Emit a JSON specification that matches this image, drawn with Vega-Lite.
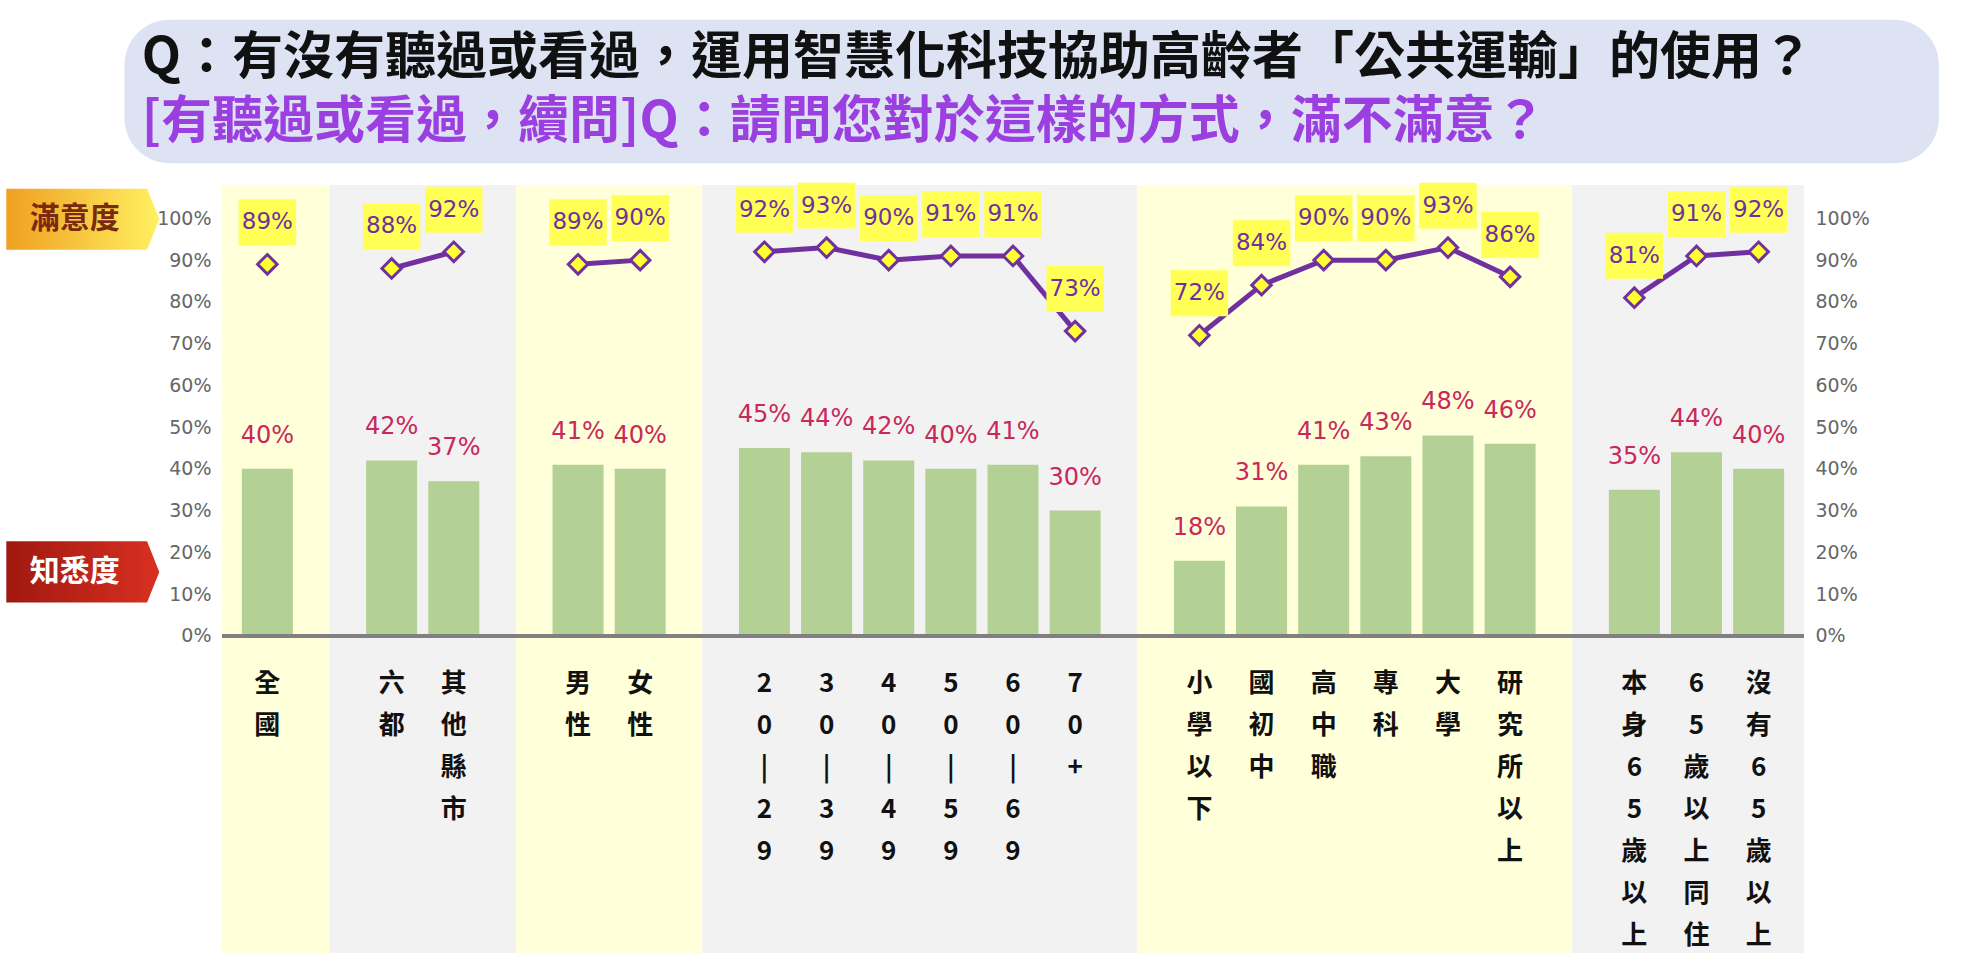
{
  "$schema": "https://vega.github.io/schema/vega-lite/v6.json",
  "width": 1592,
  "height": 768,
  "autosize": "none",
  "padding": {"left": 217, "top": 185, "right": 179, "bottom": 23},
  "background": "white",
  "config": {
    "view": {"stroke": null},
    "font": "Noto Sans CJK TC",
    "axis": {"labelFont": "Noto Sans CJK TC"}
  },
  "datasets": {
    "groups": [
      {"start": -0.73, "end": 1, "tone": "y"},
      {"start": 1, "end": 4, "tone": "g"},
      {"start": 4, "end": 7, "tone": "y"},
      {"start": 7, "end": 14, "tone": "g"},
      {"start": 14, "end": 21, "tone": "y"},
      {"start": 21, "end": 24.73, "tone": "g"}
    ],
    "rows": [
      {"idx": 0, "label": "全\n國", "group": "a", "aware": 0.40, "sat": 0.89},
      {"idx": 2, "label": "六\n都", "group": "b", "aware": 0.42, "sat": 0.88},
      {"idx": 3, "label": "其\n他\n縣\n市", "group": "b", "aware": 0.37, "sat": 0.92},
      {"idx": 5, "label": "男\n性", "group": "c", "aware": 0.41, "sat": 0.89},
      {"idx": 6, "label": "女\n性", "group": "c", "aware": 0.40, "sat": 0.90},
      {"idx": 8, "label": "2\n0\n|\n2\n9", "group": "d", "aware": 0.45, "sat": 0.92},
      {"idx": 9, "label": "3\n0\n|\n3\n9", "group": "d", "aware": 0.44, "sat": 0.93},
      {"idx": 10, "label": "4\n0\n|\n4\n9", "group": "d", "aware": 0.42, "sat": 0.90},
      {"idx": 11, "label": "5\n0\n|\n5\n9", "group": "d", "aware": 0.40, "sat": 0.91},
      {"idx": 12, "label": "6\n0\n|\n6\n9", "group": "d", "aware": 0.41, "sat": 0.91},
      {"idx": 13, "label": "7\n0\n+", "group": "d", "aware": 0.30, "sat": 0.73},
      {"idx": 15, "label": "小\n學\n以\n下", "group": "e", "aware": 0.18, "sat": 0.72},
      {"idx": 16, "label": "國\n初\n中", "group": "e", "aware": 0.31, "sat": 0.84},
      {"idx": 17, "label": "高\n中\n職", "group": "e", "aware": 0.41, "sat": 0.90},
      {"idx": 18, "label": "專\n科", "group": "e", "aware": 0.43, "sat": 0.90},
      {"idx": 19, "label": "大\n學", "group": "e", "aware": 0.48, "sat": 0.93},
      {"idx": 20, "label": "研\n究\n所\n以\n上", "group": "e", "aware": 0.46, "sat": 0.86},
      {"idx": 22, "label": "本\n身\n6\n5\n歲\n以\n上", "group": "f", "aware": 0.35, "sat": 0.81},
      {"idx": 23, "label": "6\n5\n歲\n以\n上\n同\n住", "group": "f", "aware": 0.44, "sat": 0.91},
      {"idx": 24, "label": "沒\n有\n6\n5\n歲\n以\n上", "group": "f", "aware": 0.40, "sat": 0.92}
    ]
  },
  "resolve": {"axis": {"y": "independent"}},
  "layer": [
    {
      "data": {"name": "groups"},
      "mark": {"type": "rect"},
      "encoding": {
        "x": {"field": "start", "type": "quantitative", "scale": {"domain": [-0.73, 24.73], "nice": false, "zero": false}, "axis": null},
        "x2": {"field": "end"},
        "y": {"datum": -0.76, "type": "quantitative", "scale": {"domain": [-0.76, 1.08], "nice": false, "zero": false}, "axis": null},
        "y2": {"datum": 1.08},
        "color": {"field": "tone", "type": "nominal", "scale": {"domain": ["y", "g"], "range": ["#ffffd9", "#f2f2f2"]}, "legend": null}
      }
    },
    {
      "data": {"name": "rows"},
      "mark": {"type": "bar", "width": 51, "color": "#b3d194"},
      "encoding": {
        "x": {"field": "idx", "type": "quantitative", "axis": null},
        "y": {"field": "aware", "type": "quantitative", "axis": {"orient": "left", "values": [0, 0.1, 0.2, 0.3, 0.4, 0.5, 0.6, 0.7, 0.8, 0.9, 1], "format": ".0%", "domain": false, "ticks": false, "grid": false, "labelFontSize": 19, "labelColor": "#666666", "labelFont": "DejaVu Sans", "title": null, "labelPadding": 6}},
        "y2": {"datum": 0}
      }
    },
    {
      "data": {"name": "rows"},
      "mark": {"type": "rule", "color": "#808080", "strokeWidth": 3},
      "encoding": {"x": {"datum": -0.73, "type": "quantitative", "axis": null}, "x2": {"datum": 24.73}, "y": {"datum": 0, "type": "quantitative", "axis": null}}
    },
    {
      "data": {"name": "rows"},
      "mark": {"type": "text", "dy": -33, "fontSize": 24, "color": "#c8285a", "font": "DejaVu Sans"},
      "encoding": {
        "x": {"field": "idx", "type": "quantitative", "axis": null},
        "y": {"field": "aware", "type": "quantitative", "axis": null},
        "text": {"field": "aware", "type": "quantitative", "format": ".0%"}
      }
    },
    {
      "data": {"name": "rows"},
      "mark": {"type": "text", "fontSize": 26, "fontWeight": "bold", "lineBreak": "\n", "lineHeight": 42, "baseline": "middle", "color": "#111111"},
      "encoding": {
        "x": {"field": "idx", "type": "quantitative", "axis": null},
        "y": {"datum": -0.115, "type": "quantitative", "axis": null},
        "text": {"field": "label"}
      }
    },
    {
      "data": {"name": "rows"},
      "mark": {"type": "line", "color": "#7030a0", "strokeWidth": 5},
      "encoding": {
        "x": {"field": "idx", "type": "quantitative", "axis": null},
        "y": {"field": "sat", "type": "quantitative", "axis": {"orient": "right", "values": [0, 0.1, 0.2, 0.3, 0.4, 0.5, 0.6, 0.7, 0.8, 0.9, 1], "format": ".0%", "domain": false, "ticks": false, "grid": false, "labelFontSize": 19, "labelColor": "#666666", "labelFont": "DejaVu Sans", "title": null, "labelPadding": 6}},
        "detail": {"field": "group"}
      }
    },
    {
      "data": {"name": "rows"},
      "mark": {"type": "point", "shape": "diamond", "size": 380, "filled": true, "fill": "#ffff33", "stroke": "#7030a0", "strokeWidth": 3, "opacity": 1},
      "encoding": {
        "x": {"field": "idx", "type": "quantitative", "axis": null},
        "y": {"field": "sat", "type": "quantitative", "axis": null}
      }
    },
    {
      "data": {"name": "rows"},
      "mark": {"type": "point", "shape": "M-1,-0.8H1V0.8H-1Z", "size": 3300, "filled": true, "fill": "#ffff55", "opacity": 1, "strokeWidth": 0, "yOffset": -42},
      "encoding": {
        "x": {"field": "idx", "type": "quantitative", "axis": null},
        "y": {"field": "sat", "type": "quantitative", "axis": null}
      }
    },
    {
      "data": {"name": "rows"},
      "mark": {"type": "text", "fontSize": 23, "color": "#7030a0", "font": "DejaVu Sans", "baseline": "middle", "dy": -42},
      "encoding": {
        "x": {"field": "idx", "type": "quantitative", "axis": null},
        "y": {"field": "sat", "type": "quantitative", "axis": null},
        "text": {"field": "sat", "type": "quantitative", "format": ".0%"}
      }
    },
    {
      "data": {"values": [{}]},
      "mark": {"type": "rect", "color": "#dde3f3", "cornerRadius": 45, "clip": false},
      "encoding": {
        "x": {"datum": -2.3, "type": "quantitative", "axis": null},
        "x2": {"datum": 26.9},
        "y": {"datum": 1.132, "type": "quantitative", "axis": null},
        "y2": {"datum": 1.476}
      }
    },
    {
      "data": {"values": [{}]},
      "mark": {"type": "text", "text": "Q：有沒有聽過或看過，運用智慧化科技協助高齡者「公共運輸」的使用？", "fontSize": 51, "fontWeight": "bold", "align": "left", "baseline": "alphabetic", "color": "#111111", "clip": false},
      "encoding": {"x": {"datum": -2.02, "type": "quantitative", "axis": null}, "y": {"datum": 1.345, "type": "quantitative", "axis": null}}
    },
    {
      "data": {"values": [{}]},
      "mark": {"type": "text", "text": "[有聽過或看過，續問]Q：請問您對於這樣的方式，滿不滿意？", "fontSize": 51, "fontWeight": "bold", "align": "left", "baseline": "alphabetic", "color": "#9b3fe0", "clip": false},
      "encoding": {"x": {"datum": -2.02, "type": "quantitative", "axis": null}, "y": {"datum": 1.192, "type": "quantitative", "axis": null}}
    },
    {
      "data": {"values": [{}]},
      "mark": {"type": "point", "shape": "M-1,-0.4L0.84,-0.4L1,0L0.84,0.4L-1,0.4Z", "size": 23400, "filled": true, "opacity": 1, "strokeWidth": 0, "clip": false,
        "fill": {"gradient": "linear", "x1": 0, "y1": 0, "x2": 1, "y2": 0, "stops": [{"offset": 0, "color": "#f0a020"}, {"offset": 1, "color": "#fff060"}]}},
      "encoding": {"x": {"datum": -2.97, "type": "quantitative", "axis": null}, "y": {"datum": 0.998, "type": "quantitative", "axis": null}}
    },
    {
      "data": {"values": [{}]},
      "mark": {"type": "point", "shape": "M-1,-0.4L0.84,-0.4L1,0L0.84,0.4L-1,0.4Z", "size": 23400, "filled": true, "opacity": 1, "strokeWidth": 0, "clip": false,
        "fill": {"gradient": "linear", "x1": 0, "y1": 0, "x2": 1, "y2": 0, "stops": [{"offset": 0, "color": "#a01810"}, {"offset": 1, "color": "#d83020"}]}},
      "encoding": {"x": {"datum": -2.97, "type": "quantitative", "axis": null}, "y": {"datum": 0.153, "type": "quantitative", "axis": null}}
    },
    {
      "data": {"values": [{}]},
      "mark": {"type": "text", "text": "滿意度", "fontSize": 30, "fontWeight": "bold", "color": "#7a2a10", "baseline": "middle", "clip": false, "dx": -8},
      "encoding": {"x": {"datum": -2.97, "type": "quantitative", "axis": null}, "y": {"datum": 0.998, "type": "quantitative", "axis": null}}
    },
    {
      "data": {"values": [{}]},
      "mark": {"type": "text", "text": "知悉度", "fontSize": 30, "fontWeight": "bold", "color": "white", "baseline": "middle", "clip": false, "dx": -8},
      "encoding": {"x": {"datum": -2.97, "type": "quantitative", "axis": null}, "y": {"datum": 0.153, "type": "quantitative", "axis": null}}
    }
  ]
}
